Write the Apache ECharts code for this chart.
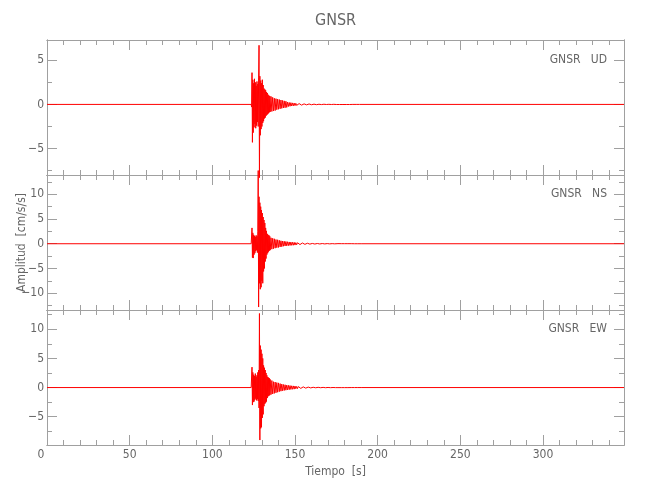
<!DOCTYPE html>
<html>
<head>
<meta charset="utf-8">
<script src="https://cdn.jsdelivr.net/npm/echarts@6/dist/echarts.min.js"></script>
<style>html,body{margin:0;padding:0;background:#fff}#c{width:650px;height:500px}</style>
</head>
<body>
<div id="c"></div>
<script>
// ---- data ----
const times = [0,
 123.5,123.75,124,124.25,124.5,124.75,125,125.25,125.5,125.75,
 126,126.25,126.5,126.75,127,127.25,127.5,127.75,128,128.25,
 128.5,128.75,129,129.25,129.5,129.75,130,130.25,130.5,130.75,
 131,131.25,131.5,131.75,132,132.25,132.5,132.75,133,133.25,
 133.5,133.75,134,134.25,134.5,134.75,135,
 135.5,136,136.5,137,137.5,138,138.5,139,139.5,140,
 140.5,141,141.5,142,142.5,143,143.5,144,144.5,145,
 145.5,146,146.5,147,147.5,148,148.5,149,149.5,150,
 150.5,151,151.5,152,152.5,153,153.5,154,154.5,155,
 155.5,156,156.5,157,157.5,158,158.5,159,159.5,160,
 160.5,161,161.5,162,162.5,163,163.5,164,164.5,165,
 165.5,166,166.5,167,167.5,168,168.5,169,169.5,170,
 170.5,171,171.5,172,172.5,173,173.5,174,174.5,175,
 176,177,178,179,180,181,182,183,184,185,186,187,188,189,190,
 349];

const ud = [0,
 0,-0.3,3.6,-4.3,2.8,-3.2,2.4,-2.6,2.9,-2.2,
 2.5,-2.7,2.1,-2.4,2.6,-2.0,2.3,-2.5,3.0,6.7,
 -8.3,3.2,-3.5,2.7,-2.8,2.4,-2.5,2.8,-2.1,2.2,
 -1.9,1.8,-1.6,1.7,-1.5,1.6,-1.3,1.4,-1.2,1.3,
 -1.1,1.1,-1.0,1.0,-0.9,0.95,-0.85,
 0.9,-0.8,0.8,-0.75,0.7,-0.7,0.65,-0.6,0.6,-0.55,
 0.55,-0.5,0.5,-0.45,0.45,-0.4,0.4,-0.38,0.36,-0.34,
 0.26,-0.24,0.22,-0.21,0.2,-0.18,0.17,-0.16,0.15,-0.14,
 0.12,-0.11,0.1,-0.1,0.09,-0.09,0.08,-0.08,0.07,-0.07,
 0.06,-0.06,0.06,-0.05,0.05,-0.05,0.05,-0.04,0.04,-0.04,
 0.03,-0.03,0.03,-0.03,0.03,-0.03,0.03,-0.02,0.02,-0.02,
 0.02,-0.02,0.02,-0.02,0.02,-0.02,0.02,-0.01,0.01,-0.01,
 0.01,-0.01,0.01,-0.01,0.01,-0.01,0.01,-0.01,0.01,-0.01,
 0.01,-0.01,0.01,-0.01,0.01,-0.01,0.01,-0.01,0,0,0,0,0,0,0,
 0];

const ns = [0,
 0,-0.2,3.2,-2.8,2.2,-2.9,1.8,-2.2,1.6,-1.9,
 1.4,-1.5,1.7,-1.3,1.5,-1.8,2.4,14.8,-12.8,9.5,
 -8.0,8.3,-9.2,7.5,-8.8,6.8,-7.5,6.2,-8.0,5.4,
 -5.6,4.8,-5.0,4.2,-3.6,3.2,-3.0,2.6,-2.2,2.0,
 -1.9,1.8,-1.6,1.7,-1.4,1.5,-1.3,
 1.2,-1.1,1.1,-1.0,1.0,-0.9,0.85,-0.8,0.8,-0.75,
 0.7,-0.65,0.6,-0.6,0.55,-0.5,0.5,-0.45,0.45,-0.42,
 0.4,-0.38,0.36,-0.35,0.34,-0.32,0.3,-0.3,0.28,-0.27,
 0.22,-0.21,0.2,-0.19,0.18,-0.17,0.16,-0.15,0.15,-0.14,
 0.13,-0.12,0.11,-0.1,0.1,-0.09,0.08,-0.08,0.07,-0.07,
 0.06,-0.06,0.06,-0.06,0.05,-0.05,0.05,-0.05,0.05,-0.05,
 0.04,-0.04,0.04,-0.04,0.04,-0.04,0.03,-0.03,0.03,-0.03,
 0.03,-0.03,0.03,-0.02,0.02,-0.02,0.02,-0.02,0.02,-0.02,
 0.02,-0.02,0.01,-0.01,0.01,-0.01,0.01,-0.01,0.01,-0.01,0,0,0,0,0,
 0];

const ew = [0,
 0,-0.2,3.5,-3.0,2.6,-2.5,2.2,-2.4,2.0,-2.1,
 2.4,-1.9,1.8,-2.2,2.1,-2.0,2.6,-2.3,3.0,-3.5,
 12.7,-9.0,7.2,-7.0,6.5,-6.8,5.8,-5.2,5.0,-4.6,
 3.8,-3.2,3.4,-2.8,3.0,-2.6,2.5,-2.4,2.1,-1.8,
 1.8,-1.5,1.7,-1.4,1.6,-1.3,1.4,
 -1.2,1.2,-1.1,1.0,-1.0,0.95,-0.9,0.85,-0.8,0.8,
 -0.7,0.68,-0.62,0.6,-0.55,0.52,-0.5,0.48,-0.45,0.42,
 -0.4,0.38,-0.36,0.34,-0.32,0.3,-0.29,0.28,-0.27,0.26,
 -0.2,0.19,-0.18,0.17,-0.16,0.15,-0.14,0.13,-0.12,0.12,
 -0.11,0.1,-0.1,0.09,-0.08,0.08,-0.07,0.07,-0.06,0.06,
 -0.05,0.05,-0.05,0.05,-0.04,0.04,-0.04,0.04,-0.04,0.04,
 -0.03,0.03,-0.03,0.03,-0.03,0.03,-0.03,0.02,-0.02,0.02,
 -0.02,0.02,-0.02,0.02,-0.02,0.01,-0.01,0.01,-0.01,0.01,
 -0.01,0.01,-0.01,0.01,-0.01,0.01,-0.01,0,0,0,0,0,0,0,0,
 0];

const channelNames = ['GNSR   UD', 'GNSR   NS', 'GNSR   EW'];
const titleText = 'GNSR';
const xLabelText = 'Tiempo  [s]';
const yLabelText = 'Amplitud  [cm/s/s]';

const xRange = [0, 349];
const xMajorTicks = [0, 50, 100, 150, 200, 250, 300];
const xMinorTicks = [10,20,30,40,60,70,80,90,110,120,130,140,160,170,180,190,210,220,230,240,260,270,280,290,310,320,330,340];

const yRanges = [[-8, 7.3], [-13.4, 13.9], [-9.85, 13.3]];
const yMajorTicks = [[-5, 0, 5], [-10, -5, 0, 5, 10], [-5, 0, 5, 10]];
const yMinorTicks = [[-7.5, -2.5, 2.5], [-12.5, -7.5, -2.5, 2.5, 7.5, 12.5], [-7.5, -2.5, 2.5, 7.5, 12.5]];
const labelValues = [5, 10, 10];

// ---- chart ----
const FONT = "'Liberation Sans Narrow', 'DejaVu Sans Condensed', 'Roboto Condensed', sans-serif";
const AX = '#a0a0a0';
const TX = '#666666';
const fmt = v => (v < 0 ? '\u2212' + Math.abs(v) : String(v));
const xfmt = v => (v === 0 ? '{z|0}' : String(v));

const channels = [ud, ns, ew];
const panelTop = [40, 175, 310];
const grid = [], xAxis = [], yAxis = [], series = [];

for (let i = 0; i < 3; i++) {
  grid.push({ left: 47, right: 26, top: panelTop[i], height: 135, containLabel: false, outerBoundsMode: 'none' });
  const baseX = { gridIndex: i, type: 'value', min: xRange[0], max: xRange[1], offset: 0,
    splitLine: { show: false }, axisLine: { show: true, onZero: false, lineStyle: { color: AX, width: 1 } } };
  const last = i === 2;
  xAxis.push(Object.assign({}, baseX, { position: 'bottom',
    axisTick: { show: true, inside: true, length: 10, lineStyle: { color: AX }, customValues: xMajorTicks },
    axisLabel: { show: last, customValues: xMajorTicks, formatter: xfmt, color: TX, fontSize: 12, fontFamily: FONT, margin: 4,
      rich: { z: { color: TX, fontSize: 12, fontFamily: FONT, padding: [0, 12, 0, 0] } } },
    name: last ? xLabelText : '', nameLocation: 'middle', nameGap: 21, nameMoveOverlap: false,
    nameTextStyle: { color: TX, fontSize: 12, fontFamily: FONT } }));
  xAxis.push(Object.assign({}, baseX, { position: 'bottom',
    axisTick: { show: true, inside: true, length: 5, lineStyle: { color: AX }, customValues: xMinorTicks },
    axisLabel: { show: false } }));
  xAxis.push(Object.assign({}, baseX, { position: 'top',
    axisTick: { show: true, inside: true, length: 10, lineStyle: { color: AX }, customValues: xMajorTicks },
    axisLabel: { show: false } }));
  xAxis.push(Object.assign({}, baseX, { position: 'top',
    axisTick: { show: true, inside: true, length: 5, lineStyle: { color: AX }, customValues: xMinorTicks },
    axisLabel: { show: false } }));

  const baseY = { gridIndex: i, type: 'value', min: yRanges[i][0], max: yRanges[i][1], offset: 0,
    splitLine: { show: false }, axisLine: { show: true, onZero: false, lineStyle: { color: AX, width: 1 } } };
  yAxis.push(Object.assign({}, baseY, { position: 'left',
    axisTick: { show: true, inside: true, length: 10, lineStyle: { color: AX }, customValues: yMajorTicks[i] },
    axisLabel: { show: true, customValues: yMajorTicks[i], formatter: fmt, color: TX, fontSize: 12, fontFamily: FONT, margin: 3 },
    name: i === 1 ? yLabelText : '', nameLocation: 'middle', nameGap: 19, nameRotate: 90, nameMoveOverlap: false,
    nameTextStyle: { color: TX, fontSize: 12, fontFamily: FONT } }));
  yAxis.push(Object.assign({}, baseY, { position: 'left',
    axisTick: { show: true, inside: true, length: 5, lineStyle: { color: AX }, customValues: yMinorTicks[i] },
    axisLabel: { show: false } }));
  yAxis.push(Object.assign({}, baseY, { position: 'right',
    axisTick: { show: true, inside: true, length: 10, lineStyle: { color: AX }, customValues: yMajorTicks[i] },
    axisLabel: { show: false } }));
  yAxis.push(Object.assign({}, baseY, { position: 'right',
    axisTick: { show: true, inside: true, length: 5, lineStyle: { color: AX }, customValues: yMinorTicks[i] },
    axisLabel: { show: false } }));

  series.push({
    type: 'line', xAxisIndex: i * 4, yAxisIndex: i * 4,
    data: times.map((t, k) => [t, channels[i][k]]),
    showSymbol: false, symbol: 'none', clip: false, sampling: null,
    lineStyle: { color: '#ff0000', width: 1 }, silent: true, z: 1
  });
}

const chart = echarts.init(document.getElementById('c'), null, { renderer: 'canvas' });
chart.setOption({
  backgroundColor: '#ffffff',
  animation: false,
  grid, xAxis, yAxis, series
});

// text overlays positioned from the axes
const graphics = [{
  type: 'text', x: 335.5, y: 21,
  style: { text: titleText, fill: TX, fontSize: 16, fontFamily: FONT, align: 'center', verticalAlign: 'middle' }
}];
for (let i = 0; i < 3; i++) {
  const p = chart.convertToPixel({ xAxisIndex: i * 4, yAxisIndex: i * 4 }, [xRange[1], labelValues[i]]);
  graphics.push({
    type: 'text', x: p[0] - 17, y: p[1],
    style: { text: channelNames[i], fill: TX, fontSize: 12, fontFamily: FONT, align: 'right', verticalAlign: 'middle' }
  });
}
chart.setOption({ graphic: graphics });
</script>
</body>
</html>
